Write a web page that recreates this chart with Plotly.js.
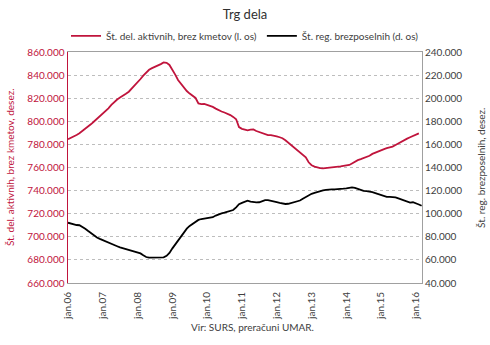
<!DOCTYPE html>
<html><head><meta charset="utf-8">
<script src="https://cdn.plot.ly/plotly-3.0.1.min.js"></script>
<style>body{margin:0;background:#fff}#c{width:490px;height:345px}</style>
</head><body><div id="c"></div>
<script>
const startYear = 2006;
const employedK = [784.4,785.5,786.8,788.2,789.6,791.5,793.4,795.6,797.6,799.8,802.0,804.0,
806.2,808.6,811.2,814.2,816.8,818.9,820.6,822.0,823.8,825.6,828.2,830.8,
833.8,836.6,839.5,842.4,844.6,846.0,847.0,848.2,849.5,851.0,850.6,848.8,
845.0,840.2,835.8,832.5,829.2,826.2,824.0,822.2,820.2,815.5,814.8,815.0,
814.2,813.3,812.5,811.0,809.4,808.5,807.6,806.8,805.4,803.8,801.8,795.0,
793.5,792.8,792.2,792.8,793.0,791.6,790.6,789.6,788.6,788.1,788.0,787.8,
787.0,786.2,785.3,783.6,781.6,779.6,777.4,775.4,773.2,771.0,768.8,764.5,
762.0,760.8,760.0,759.5,759.3,759.5,759.8,760.1,760.3,760.6,761.0,761.4,
761.8,762.2,763.5,765.0,766.4,767.2,768.0,768.8,770.2,771.8,773.0,774.0,
775.0,775.9,776.7,777.4,778.1,779.5,781.0,782.3,783.6,785.0,786.2,787.2,
788.3,789.6];
const unemployedK = [92.2,91.4,90.4,90.2,90.0,88.6,87.0,85.0,83.0,80.8,79.4,78.2,
77.0,75.9,74.8,73.8,72.8,71.8,70.8,70.0,69.2,68.4,67.8,67.2,
66.7,65.6,64.0,62.5,62.0,62.0,62.0,62.0,62.0,62.2,63.5,66.0,
70.0,73.5,76.8,80.2,83.8,87.0,89.4,91.0,92.8,94.6,95.4,95.8,
95.9,96.0,97.0,98.4,99.6,100.3,100.9,101.6,102.3,103.2,105.5,108.2,
109.4,110.5,111.3,110.4,109.9,109.8,109.9,110.8,111.8,111.8,111.4,110.8,
110.0,109.4,108.8,108.4,108.6,109.2,109.8,110.6,111.4,113.0,114.5,116.0,
117.2,118.0,118.8,119.6,120.2,120.7,121.1,121.1,121.1,121.1,121.3,121.7,
122.0,122.4,122.8,122.3,121.4,120.6,119.8,119.5,119.2,118.6,117.8,117.0,
116.2,115.2,114.6,114.5,114.5,114.1,113.2,112.2,111.0,110.0,109.6,109.9,
109.2,108.0,106.9];
const tickYears = ['06','07','08','09','10','11','12','13','14','15','16'];
const seriesNames = ['Št. del. aktivnih, brez kmetov (l. os)','Št. reg. brezposelnih (d. os)'];

function monthDate(i){const y=startYear+Math.floor(i/12);const m=i%12+1;return y+'-'+(m<10?'0':'')+m+'-01';}
const xE = employedK.map((v,i)=>monthDate(i));
const xU = unemployedK.map((v,i)=>monthDate(i));
const tickvals = tickYears.map(y=>'20'+y+'-01-01');
const ticktext = tickYears.map(y=>'jan.'+y);

const red = '#C0143C', dark = '#404040';
const font = 'Lato, "Open Sans", sans-serif';
const data = [
 {x:xE, y:employedK.map(v=>v*1000), type:'scatter', mode:'lines', name:seriesNames[0], line:{color:red,width:1.8}, yaxis:'y'},
 {x:xU, y:unemployedK.map(v=>v*1000), type:'scatter', mode:'lines', name:seriesNames[1], line:{color:'#000000',width:1.8}, yaxis:'y2'}
];
const layout = {
 width:490, height:345, separators:',.',
 margin:{l:68,r:68,t:52,b:62},
 paper_bgcolor:'#fff', plot_bgcolor:'#fff',
 font:{family:font,size:10,color:dark},
 title:{text:'Trg dela', x:0.5, xanchor:'center', y:0.958, yanchor:'middle', yref:'container', font:{size:13,color:'#303030',family:font}},
 showlegend:true,
 legend:{orientation:'h', x:0.5, xanchor:'center', y:1.07, yanchor:'middle', font:{size:10,color:dark}, itemwidth:30, tracegroupgap:0},
 xaxis:{type:'date', range:['2006-01-01','2016-03-05'], tickvals:tickvals, ticktext:ticktext, tickangle:-90, ticklabelstandoff:4,
   showgrid:false, showline:true, linecolor:'#A0A0A0', linewidth:1, mirror:true, ticks:'', tickfont:{size:10,color:dark}, zeroline:false, fixedrange:true},
 yaxis:{range:[660000,860000], dtick:20000, tickformat:',.0f', tickfont:{size:10,color:red}, showgrid:true, gridcolor:'#BDBDBD', griddash:'dot', gridwidth:1,
   showline:true, linecolor:red, linewidth:1.5, ticks:'', zeroline:false},
 yaxis2:{range:[40000,240000], dtick:20000, tickformat:',.0f', overlaying:'y', side:'right', tickfont:{size:10,color:dark}, showgrid:false,
   showline:true, linecolor:'#A0A0A0', linewidth:1, ticks:'', zeroline:false},
 annotations:[
  {text:'Št. del. aktivnih, brez kmetov, desez.', textangle:-90, xref:'paper', yref:'paper', x:-0.165, y:0.5, xanchor:'center', yanchor:'middle', showarrow:false, font:{size:10,color:red}},
  {text:'Št. reg. brezposelnih, desez.', textangle:-90, xref:'paper', yref:'paper', x:1.165, y:0.5, xanchor:'center', yanchor:'middle', showarrow:false, font:{size:10,color:dark}},
  {text:'Vir: SURS, preračuni UMAR.', xref:'paper', yref:'paper', x:0.52, y:-0.19, xanchor:'center', yanchor:'middle', showarrow:false, font:{size:10,color:dark}}
 ]
};
Plotly.newPlot('c', data, layout, {staticPlot:true, displayModeBar:false});
</script></body></html>
